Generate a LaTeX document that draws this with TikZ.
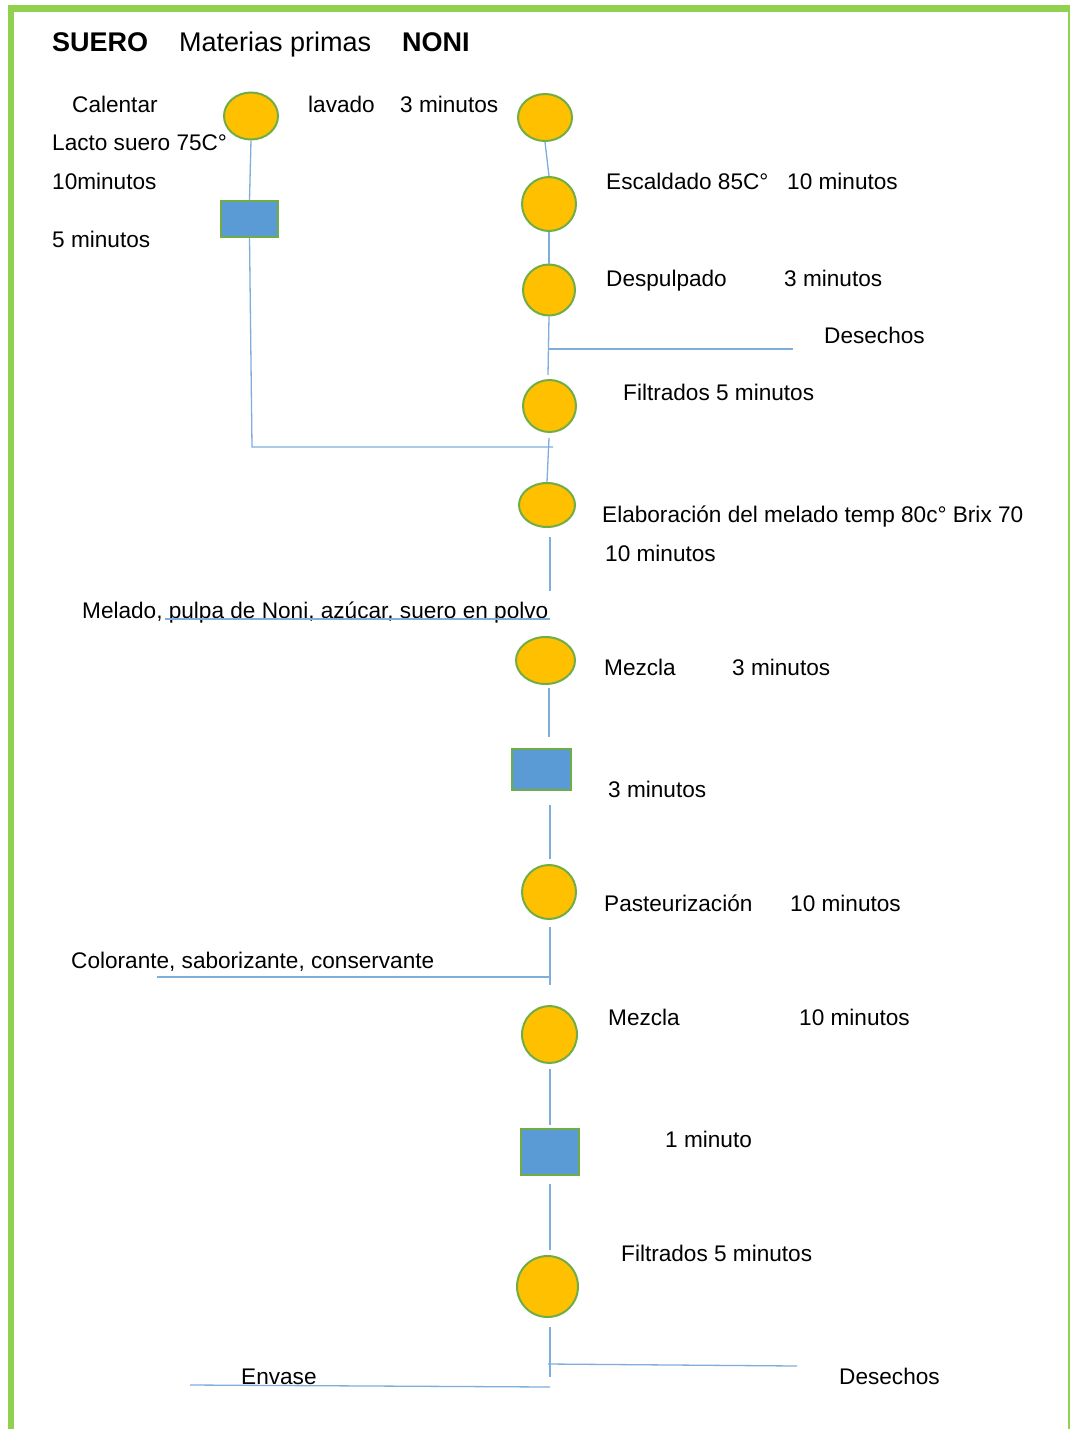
\documentclass[tikz,border=0pt]{standalone}
\usepackage{fontspec}
\setmainfont{Liberation Sans}
\usetikzlibrary{shapes.geometric}
\definecolor{bordergreen}{HTML}{92D050}
\definecolor{ogreen}{HTML}{70AD47}
\definecolor{oyellow}{HTML}{FFC000}
\definecolor{oblue}{HTML}{5B9BD5}
\definecolor{lblue}{HTML}{7FAEDD}
\tikzset{
  circ/.style={ellipse, draw=ogreen, fill=oyellow, line width=2pt, inner sep=0pt},
  rbox/.style={rectangle, draw=ogreen, fill=oblue, line width=2pt, inner sep=0pt},
  txt/.style={anchor=base west, inner sep=0pt, font=\fontsize{22.6}{27}\selectfont},
  hdr/.style={anchor=base west, inner sep=0pt, font=\fontsize{27}{32}\selectfont},
  ln/.style={draw=lblue, line width=1.3pt}
}
\begin{document}
\begin{tikzpicture}[x=1pt, y=-1pt]
\useasboundingbox (0,0) rectangle (1070,1429);
\fill[white] (0,0) rectangle (1070,1429);
% border
\fill[bordergreen] (8,5) rectangle (1070,12);
\fill[bordergreen] (8,5) rectangle (14,1429);
\fill[bordergreen] (1068,12) rectangle (1070,1429);

% headers
\node[hdr] (hsuero) at (52,52) {\textbf{SUERO}};
\node[hdr] (hmat) at (179,52) {Materias primas};
\node[hdr] (hnoni) at (402,52) {\textbf{NONI}};

% left texts
\node[txt] (tcal) at (72,112) {Calentar};
\node[txt] (tlav) at (308,112) {lavado};
\node[txt] (tlav3) at (400,112) {3 minutos};
\node[txt] (tlacto) at (52,150) {Lacto suero 75C°};
\node[txt] (t10m) at (52,189) {10minutos};
\node[txt] (t5m) at (52,247) {5 minutos};

% right texts
\node[txt] (tesc) at (606,189) {Escaldado 85C°};
\node[txt] (tesc10) at (787,189) {10 minutos};
\node[txt] (tdes) at (606,286) {Despulpado};
\node[txt] (tdes3) at (784,286) {3 minutos};
\node[txt] (tdesech1) at (824,343) {Desechos};
\node[txt] (tfil1) at (623,400) {Filtrados 5 minutos};
\node[txt] (telab) at (602,522) {Elaboración del melado temp 80c° Brix 70};
\node[txt] (telab10) at (605,561) {10 minutos};
\node[txt] (tmel) at (82,618) {Melado, pulpa de Noni, azúcar, suero en polvo};
\node[txt] (tmez1) at (604,675) {Mezcla};
\node[txt] (tmez13) at (732,675) {3 minutos};
\node[txt] (tr2) at (608,797) {3 minutos};
\node[txt] (tpast) at (604,911) {Pasteurización};
\node[txt] (tpast10) at (790,911) {10 minutos};
\node[txt] (tcol) at (71,968) {Colorante, saborizante, conservante};
\node[txt] (tmez2) at (608,1025) {Mezcla};
\node[txt] (tmez210) at (799,1025) {10 minutos};
\node[txt] (tr3) at (665,1147) {1 minuto};
\node[txt] (tfil2) at (621,1261) {Filtrados 5 minutos};
\node[txt] (tdesech2) at (839,1384) {Desechos};
\node[txt] (tenv) at (241,1384) {Envase};

% shapes
\node[circ, minimum width=54pt, minimum height=47pt] (c1) at (251,116) {};
\node[rbox, minimum width=57pt, minimum height=36pt] (r1) at (249.5,219) {};
\node[circ, minimum width=54pt, minimum height=47pt] (c2) at (545,117.5) {};
\node[circ, minimum width=54pt, minimum height=54pt] (c3) at (549,204) {};
\node[circ, minimum width=52pt, minimum height=51pt] (c4) at (549,290) {};
\node[circ, minimum width=53pt, minimum height=52pt] (c5) at (549.5,406) {};
\node[circ, minimum width=56pt, minimum height=44pt] (c6) at (547,505) {};
\node[circ, minimum width=59pt, minimum height=47pt] (c7) at (545.5,660.5) {};
\node[rbox, minimum width=59pt, minimum height=41pt] (r2) at (541.5,769.5) {};
\node[circ, minimum width=54pt, minimum height=54pt] (c8) at (549,892) {};
\node[circ, minimum width=55pt, minimum height=57pt] (c9) at (549.5,1034.5) {};
\node[rbox, minimum width=58pt, minimum height=46pt] (r3) at (550,1152) {};
\node[circ, minimum width=61pt, minimum height=61pt] (c10) at (547.5,1286.5) {};

% junction coordinates
\coordinate (j1) at (252,447);
\coordinate (j1r) at (553,447);
\coordinate (b1) at (548,349);
\coordinate (b1e) at (793,349);
\coordinate (d1) at (548,375);
\coordinate (j2) at (549,438);
\coordinate (m1) at (550,591);
\coordinate (m0) at (550,537);
\coordinate (mu0) at (165,619);
\coordinate (mu1) at (550,619);
\coordinate (g0) at (549,688);
\coordinate (g1) at (549,737);
\coordinate (h0) at (550,805);
\coordinate (h1) at (550,859);
\coordinate (k0) at (550,927);
\coordinate (k1) at (550,985);
\coordinate (col0) at (157,977);
\coordinate (col1) at (550,977);
\coordinate (p0) at (550,1069);
\coordinate (p1) at (550,1125);
\coordinate (q0) at (550,1184);
\coordinate (q1) at (550,1250);
\coordinate (f0) at (550,1327);
\coordinate (f1) at (550,1377);
\coordinate (de0) at (548,1364);
\coordinate (de1) at (797,1366);
\coordinate (en0) at (190,1385);
\coordinate (en1) at (550,1387);

% connectors
\draw[ln] (c1.south) -- (r1.north);
\draw[ln] (r1.south) -- (j1) -- (j1r);
\draw[ln] (c2.south) -- (c3.north);
\draw[ln] (c3.south) -- (c4.north);
\draw[ln] (c4.south) -- (d1);
\draw[ln] (b1) -- (b1e);
\draw[ln] (j2) -- (c6.north);
\draw[ln] (m0) -- (m1);
\draw[ln] (mu0) -- (mu1);
\draw[ln] (g0) -- (g1);
\draw[ln] (h0) -- (h1);
\draw[ln] (k0) -- (k1);
\draw[ln] (col0) -- (col1);
\draw[ln] (p0) -- (p1);
\draw[ln] (q0) -- (q1);
\draw[ln] (f0) -- (f1);
\draw[ln] (de0) -- (de1);
\draw[ln] (en0) -- (en1);
\end{tikzpicture}
\end{document}
